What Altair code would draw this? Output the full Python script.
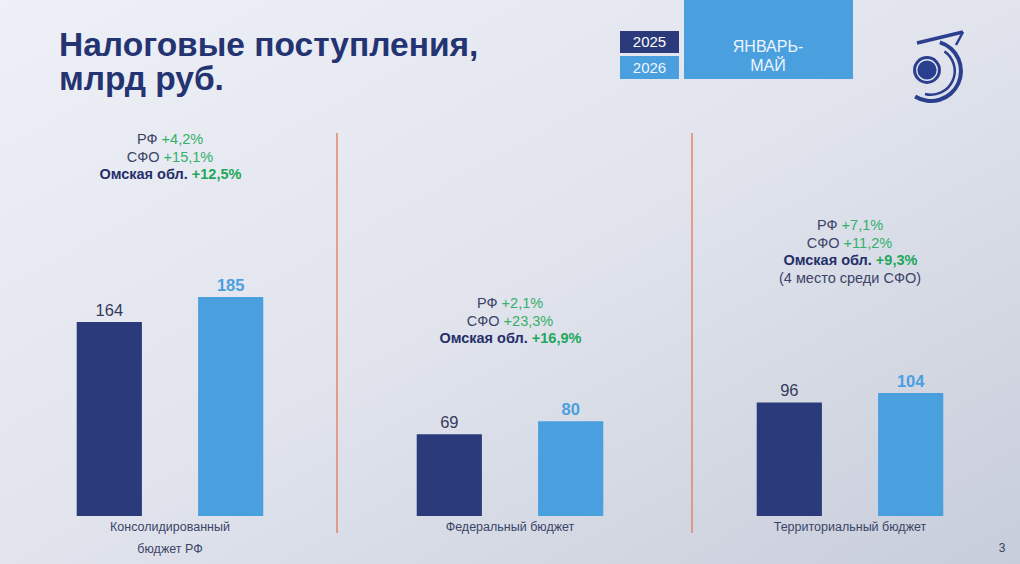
import altair as alt
import pandas as pd

# ---------------- data ----------------
groups = ["Консолидированный|бюджет РФ", "Федеральный бюджет", "Территориальный бюджет"]
years = ["2025", "2026"]
values_2025 = [164, 69, 96]
values_2026 = [185, 80, 104]

ann_labels = [
    ["РФ", "СФО", "Омская обл."],
    ["РФ", "СФО", "Омская обл."],
    ["РФ", "СФО", "Омская обл.", "(4 место среди СФО)"],
]
ann_values = [
    ["+4,2%", "+15,1%", "+12,5%"],
    ["+2,1%", "+23,3%", "+16,9%"],
    ["+7,1%", "+11,2%", "+9,3%", ""],
]
ann_bold = [
    [False, False, True],
    [False, False, True],
    [False, False, True, False],
]

title_lines = ["Налоговые поступления,", "млрд руб."]
period_lines = ["ЯНВАРЬ-", "МАЙ"]
page_number = "3"

# ---------------- layout / style ----------------
W, H_PLOT, H = 1020, 516, 564
Y_MAX = 436
FONT = "Liberation Sans"
DARK = "#2a3a7a"
LIGHT = "#4a9fdf"
NAVY_TEXT = "#243372"
LABEL_TEXT = "#3b4468"
GREEN = "#34b06a"
GREEN_BOLD = "#21a75b"
SEP = "#e2775a"
ANN_SIZE = 14.5
ANN_TOP = [140, 304, 226]
ANN_STEP = 17.7

# approximate Arial / Liberation Sans advance widths (per 1000 em)
REG = {' ': 278, '+': 584, ',': 278, '.': 278, '%': 889, '(': 333, ')': 333,
       'Р': 667, 'Ф': 760, 'С': 722, 'О': 778,
       'а': 556, 'б': 573, 'в': 531, 'д': 583, 'е': 556, 'и': 559, 'к': 438, 'л': 583,
       'м': 688, 'н': 552, 'о': 556, 'р': 556, 'с': 500, 'т': 458, 'я': 542}
BOLD = {' ': 278, '+': 584, ',': 278, '.': 278, '%': 889,
        'О': 778, 'Р': 722, 'Ф': 833, 'С': 722,
        'а': 556, 'б': 611, 'к': 556, 'л': 615, 'м': 740, 'о': 611, 'с': 556, 'я': 573}


def text_w(s, bold=False, size=ANN_SIZE):
    table = BOLD if bold else REG
    tot = 0
    for ch in s:
        if ch.isdigit():
            tot += 556
        else:
            tot += table.get(ch, 560)
    return tot * size / 1000.0


step = W / len(groups)
rows = []
for gi in range(len(groups)):
    center = (gi + 0.5) * step
    for li, (lab, val, b) in enumerate(zip(ann_labels[gi], ann_values[gi], ann_bold[gi])):
        py = ANN_TOP[gi] + li * ANN_STEP
        if val:
            wl = text_w(lab, b)
            ws = text_w(" ", b)
            wv = text_w(val, b)
            start = center - (wl + ws + wv) / 2
            rows.append(dict(px=start + wl, py=py, text=lab, part="label", bold=b))
            rows.append(dict(px=start + wl + ws, py=py, text=val, part="value", bold=b))
        else:
            rows.append(dict(px=center, py=py, text=lab, part="note", bold=b))
ann = pd.DataFrame(rows)

bars = pd.DataFrame(
    [dict(group=g, year=years[0], value=v) for g, v in zip(groups, values_2025)]
    + [dict(group=g, year=years[1], value=v) for g, v in zip(groups, values_2026)]
)
cats = pd.DataFrame({"group": groups})

x_scale = alt.Scale(domain=groups, paddingInner=0, paddingOuter=0)
xo_scale = alt.Scale(domain=years, paddingInner=0.463, paddingOuter=0.632)
y_scale = alt.Scale(domain=[0, Y_MAX], nice=False, zero=True)

x_enc = alt.X("group:N", sort=groups, scale=x_scale, title=None, axis=None)
xo_enc = alt.XOffset("year:N", scale=xo_scale)
y_enc = alt.Y("value:Q", scale=y_scale, axis=None)

bar_layer = alt.Chart(bars).mark_bar().encode(
    x=x_enc, xOffset=xo_enc, y=y_enc,
    color=alt.Color("year:N", scale=alt.Scale(domain=years, range=[DARK, LIGHT]), legend=None),
)
lab25 = alt.Chart(bars).transform_filter(alt.datum.year == years[0]).mark_text(
    font=FONT, fontSize=16.5, color="#343b5c", baseline="alphabetic", dy=-6
).encode(x=x_enc, xOffset=xo_enc, y=y_enc, text="value:Q")
lab26 = alt.Chart(bars).transform_filter(alt.datum.year == years[1]).mark_text(
    font=FONT, fontSize=16.5, fontWeight="bold", color=LIGHT, baseline="alphabetic", dy=-6
).encode(x=x_enc, xOffset=xo_enc, y=y_enc, text="value:Q")

# category labels under the bars (drawn as text, centred on each group band)
cat_labels = alt.Chart(cats).mark_text(
    font=FONT, fontSize=12.5, color=LABEL_TEXT, lineBreak="|", lineHeight=22,
    baseline="middle", align="center",
).encode(x=x_enc, y=alt.value(527), text="group:N")

sep_df1 = pd.DataFrame({"group": [groups[1]]})
sep_df2 = pd.DataFrame({"group": [groups[2]]})
sep_x = alt.X("group:N", sort=groups, scale=x_scale, bandPosition=0, title=None, axis=None)
sep1 = alt.Chart(sep_df1).mark_rule(color=SEP, strokeWidth=1.3, xOffset=-3).encode(
    x=sep_x, y=alt.value(133), y2=alt.value(533))
sep2 = alt.Chart(sep_df2).mark_rule(color=SEP, strokeWidth=1.3, xOffset=12).encode(
    x=sep_x, y=alt.value(133), y2=alt.value(533))

main = alt.layer(bar_layer, lab25, lab26, cat_labels, sep1, sep2)

ax = alt.X("px:Q", scale=None, axis=None)
ay = alt.Y("py:Q", scale=None, axis=None)
ann_base = alt.Chart(ann)
a_lab = ann_base.transform_filter("datum.part == 'label' && !datum.bold").mark_text(
    font=FONT, fontSize=ANN_SIZE, color=LABEL_TEXT, align="right", baseline="middle"
).encode(x=ax, y=ay, text="text:N")
a_labb = ann_base.transform_filter("datum.part == 'label' && datum.bold").mark_text(
    font=FONT, fontSize=ANN_SIZE, fontWeight="bold", color="#25306a", align="right", baseline="middle"
).encode(x=ax, y=ay, text="text:N")
a_val = ann_base.transform_filter("datum.part == 'value' && !datum.bold").mark_text(
    font=FONT, fontSize=ANN_SIZE, color=GREEN, align="left", baseline="middle"
).encode(x=ax, y=ay, text="text:N")
a_valb = ann_base.transform_filter("datum.part == 'value' && datum.bold").mark_text(
    font=FONT, fontSize=ANN_SIZE, fontWeight="bold", color=GREEN_BOLD, align="left", baseline="middle"
).encode(x=ax, y=ay, text="text:N")
a_note = ann_base.transform_filter("datum.part == 'note'").mark_text(
    font=FONT, fontSize=ANN_SIZE, color=LABEL_TEXT, align="center", baseline="middle"
).encode(x=ax, y=ay, text="text:N")
ann_layer = alt.layer(a_lab, a_labb, a_val, a_valb, a_note)

# ---------------- decorations ----------------
one = pd.DataFrame({"d": [0]})
bg = alt.Chart(one).mark_rect(
    color=alt.Gradient(
        gradient="linear",
        stops=[alt.GradientStop(color="#eef0f7", offset=0),
               alt.GradientStop(color="#e1e4ed", offset=0.5),
               alt.GradientStop(color="#c7cdda", offset=1)],
        x1=0, y1=0, x2=1, y2=1,
    )
).encode(x=alt.value(0), x2=alt.value(W), y=alt.value(0), y2=alt.value(H))

TITLE_SIZE = 33.5
t1 = alt.Chart(one).mark_text(font=FONT, fontSize=TITLE_SIZE, fontWeight="bold", color=NAVY_TEXT,
                              align="left", baseline="alphabetic").encode(
    x=alt.value(59), y=alt.value(56), text=alt.value(title_lines[0]))
t2 = alt.Chart(one).mark_text(font=FONT, fontSize=TITLE_SIZE, fontWeight="bold", color=NAVY_TEXT,
                              align="left", baseline="alphabetic").encode(
    x=alt.value(59), y=alt.value(90), text=alt.value(title_lines[1]))

box25 = alt.Chart(one).mark_rect(color=DARK).encode(
    x=alt.value(620), x2=alt.value(679), y=alt.value(31), y2=alt.value(53))
box26 = alt.Chart(one).mark_rect(color=LIGHT).encode(
    x=alt.value(620), x2=alt.value(679), y=alt.value(56), y2=alt.value(79))
boxp = alt.Chart(one).mark_rect(color=LIGHT).encode(
    x=alt.value(684), x2=alt.value(853), y=alt.value(0), y2=alt.value(79))
tx25 = alt.Chart(one).mark_text(font=FONT, fontSize=15, color="white", baseline="middle").encode(
    x=alt.value(649.5), y=alt.value(42), text=alt.value(years[0]))
tx26 = alt.Chart(one).mark_text(font=FONT, fontSize=15, color="#eef5fc", baseline="middle").encode(
    x=alt.value(649.5), y=alt.value(67.5), text=alt.value(years[1]))
txp1 = alt.Chart(one).mark_text(font=FONT, fontSize=16, color="#eef5fc", baseline="middle").encode(
    x=alt.value(768), y=alt.value(47), text=alt.value(period_lines[0]))
txp2 = alt.Chart(one).mark_text(font=FONT, fontSize=16, color="#eef5fc", baseline="middle").encode(
    x=alt.value(768), y=alt.value(66), text=alt.value(period_lines[1]))

LOGO = "#2b3f8f"
arc1 = alt.Chart(one).mark_arc(color=LOGO, radius=32, radius2=28, theta=0.3, theta2=3.7).encode(
    x=alt.value(931), y=alt.value(71))
arc2 = alt.Chart(one).mark_arc(color=LOGO, radius=25, radius2=22.5, theta=0.6, theta2=3.4).encode(
    x=alt.value(931), y=alt.value(71))
c_out = alt.Chart(one).mark_point(shape="circle", filled=True, color=LOGO, size=780, opacity=1).encode(
    x=alt.value(927), y=alt.value(70))
c_ring = alt.Chart(one).mark_point(shape="circle", filled=False, color="#dfe5f2", size=420,
                                   strokeWidth=1.3, opacity=1).encode(x=alt.value(927), y=alt.value(70))
logo_top = alt.Chart(one).mark_rule(color=LOGO, strokeWidth=3.5).encode(
    x=alt.value(917), x2=alt.value(963), y=alt.value(43), y2=alt.value(32))
logo_tick = alt.Chart(one).mark_rule(color=LOGO, strokeWidth=2.5).encode(
    x=alt.value(963), x2=alt.value(956), y=alt.value(32), y2=alt.value(45))

page = alt.Chart(one).mark_text(font=FONT, fontSize=12, color="#3a4060", baseline="middle").encode(
    x=alt.value(1002), y=alt.value(548), text=alt.value(page_number))

chart = alt.layer(
    bg, main, ann_layer,
    t1, t2, box25, box26, boxp, tx25, tx26, txp1, txp2,
    arc1, arc2, c_out, c_ring, logo_top, logo_tick, page,
).resolve_scale(x="independent", y="independent").properties(
    width=W, height=H_PLOT,
    padding={"left": 0, "top": 0, "right": 0, "bottom": H - H_PLOT},
    autosize=alt.AutoSizeParams(type="none"),
    background="#e2e5ed",
).configure_view(stroke=None)

chart.save("out.html", embed_options={"renderer": "svg", "actions": False})
